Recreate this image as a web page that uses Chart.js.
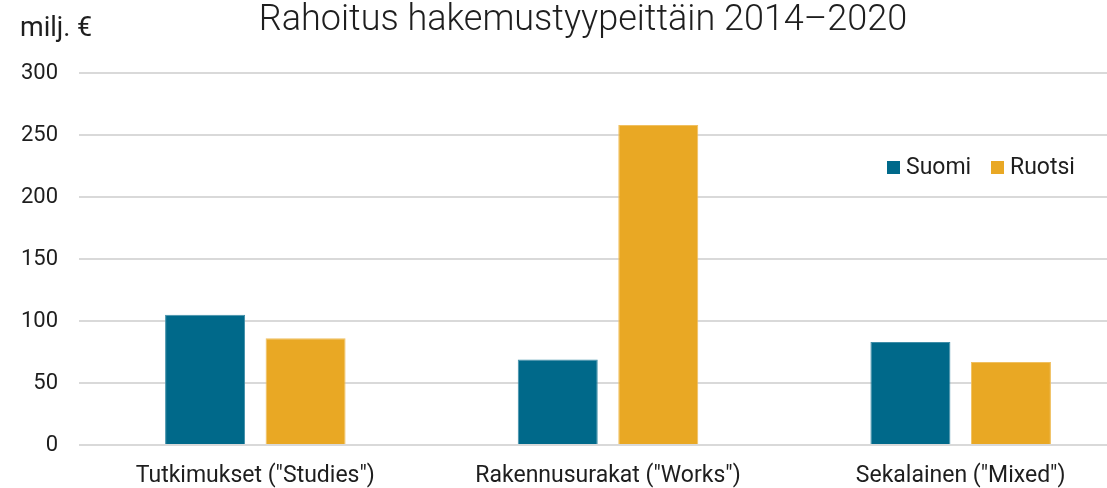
<!DOCTYPE html>
<html>
<head>
<meta charset="utf-8">
<script src="https://cdn.jsdelivr.net/npm/chart.js@4"></script>
<style>
  html, body { margin: 0; padding: 0; background: #fff; overflow: hidden; }
  #wrap { position: relative; width: 1137px; height: 488px; }
</style>
</head>
<body>
<div id="wrap"><canvas id="myChart"></canvas></div>
<script>
// funding per application type, million euros
const categories = ['Tutkimukset ("Studies")', 'Rakennusurakat ("Works")', 'Sekalainen ("Mixed")'];
const suomi = [105, 69, 83];
const ruotsi = [86, 258, 67];
const seriesNames = ['Suomi', 'Ruotsi'];
const yTicks = [0, 50, 100, 150, 200, 250, 300];

const blue = '#00698a';
const gold = '#e9a824';
const textColor = '#1e1e1e';

// title, unit label and legend drawn straight on the canvas
const extras = {
  id: 'extras',
  afterDraw(chart) {
    const ctx = chart.ctx;
    ctx.save();
    ctx.fillStyle = textColor;
    ctx.textBaseline = 'middle';
    ctx.font = '300 36px Roboto';
    ctx.textAlign = 'center';
    ctx.fillText('Rahoitus hakemustyypeittäin 2014–2020', 583, 21);
    ctx.font = '27px Roboto';
    ctx.textAlign = 'left';
    ctx.fillText('milj. €', 20, 29);

    const items = [[seriesNames[0], blue, 887], [seriesNames[1], gold, 991]];
    items.forEach(([name, col, x]) => {
      ctx.fillStyle = col;
      ctx.fillRect(x, 161, 13, 13);
      ctx.fillStyle = textColor;
      ctx.font = '23px Roboto';
      ctx.fillText(name, x + 19, 168);
    });
    ctx.restore();
  }
};

const ctx = document.getElementById('myChart').getContext('2d');
new Chart(ctx, {
  type: 'bar',
  data: {
    labels: categories,
    datasets: [
      { label: seriesNames[0], data: suomi, backgroundColor: blue, borderColor: '#3f8ea8', borderWidth: 1 },
      { label: seriesNames[1], data: ruotsi, backgroundColor: gold, borderColor: '#f0c060', borderWidth: 1 }
    ]
  },
  options: {
    responsive: true,
    maintainAspectRatio: false,
    animation: false,
    categoryPercentage: 0.57,
    barPercentage: 0.796,
    layout: { padding: { top: 73, left: 0, right: 0, bottom: 0 } },
    plugins: {
      legend: { display: false },
      title: { display: false },
      tooltip: { enabled: false }
    },
    scales: {
      x: {
        afterFit(axis) { axis.height = 43; },
        grid: { display: false, drawTicks: false },
        border: { display: false },
        ticks: { color: textColor, font: { family: 'Roboto', size: 23 }, padding: 17, maxRotation: 0 }
      },
      y: {
        min: 0,
        max: 300,
        afterFit(axis) { axis.width = 79; },
        afterBuildTicks(axis) { axis.ticks = yTicks.map(v => ({ value: v })); },
        grid: { color: '#d9d9d9', lineWidth: 2, drawTicks: false },
        border: { display: false },
        ticks: { color: textColor, font: { family: 'Roboto', size: 22 }, padding: 21 }
      }
    }
  },
  plugins: [extras]
});
</script>
</body>
</html>
